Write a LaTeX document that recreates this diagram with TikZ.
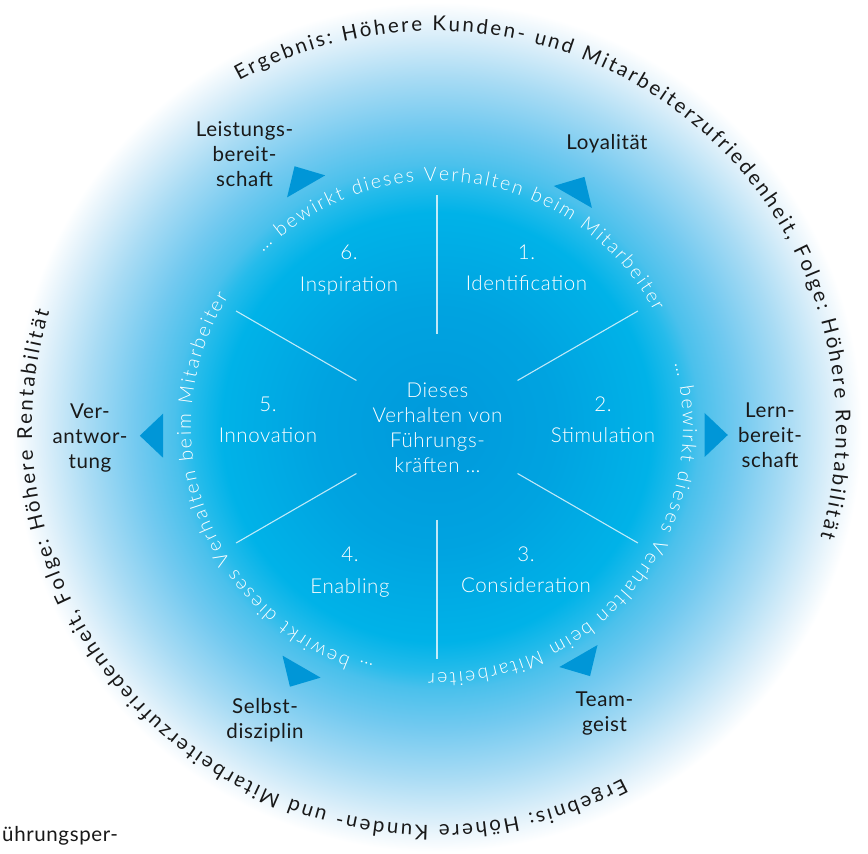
\documentclass[tikz,border=0pt]{standalone}
\usepackage{fontspec}
\setmainfont{Lato}[LetterSpace=3]
\newfontfamily\thinfont{Lato Light}[LetterSpace=3]
\newfontfamily\thinringfont{Lato Light}
\newfontfamily\ringfont{Lato}
\usetikzlibrary{decorations.text}

% glow behind the wheel: deep blue core, cyan rim, fading to white
% (the path's bounding box maps onto the inner 25bp of the shading)
\pgfdeclareradialshading{halo}{\pgfpoint{0bp}{0bp}}{%
  rgb(0bp)=(0,0.60,0.86);
  rgb(7bp)=(0,0.64,0.88);
  rgb(12.5bp)=(0,0.70,0.91);
  rgb(14.25bp)=(0.15,0.735,0.92);
  rgb(15.25bp)=(0.29,0.755,0.925);
  rgb(17.5bp)=(0.45,0.79,0.94);
  rgb(20.35bp)=(0.66,0.86,0.957);
  rgb(23bp)=(0.87,0.94,0.98);
  rgb(24.7bp)=(1,1,1);
  rgb(50bp)=(1,1,1)}

\definecolor{pointerblue}{RGB}{0,150,215}
\definecolor{ink}{RGB}{25,25,25}

\tikzset{
  divider/.style={draw=white, draw opacity=0.75, line width=1.1pt},
  darklabel/.style={text=ink, align=center, inner sep=0pt,
    font=\fontsize{20.5}{25}\selectfont},
  lightlabel/.style={text=white, align=center, inner sep=0pt,
    font=\thinfont\fontsize{20.5}{25}\selectfont},
  pointer/.style={fill=pointerblue},
  ringtext/.style={decorate, decoration={text along path, text align=fit to path,
    text={|\thinringfont\fontsize{19.5}{23}\selectfont\color{white}|… bewirkt dieses Verhalten beim Mitarbeiter}}},
  outertext/.style={decorate, decoration={text along path, text align=fit to path,
    text={|\ringfont\fontsize{20.5}{25}\selectfont\color{ink}|Ergebnis: Höhere Kunden- und Mitarbeiterzufriedenheit, Folge: Höhere Rentabilität}}},
}

\begin{document}
\begin{tikzpicture}[x=1pt,y=1pt]
\useasboundingbox (0,0) rectangle (868,854);
\fill[white] (0,0) rectangle (868,854);

% background glow
\shade[shading=halo] (437,427) circle[radius=430];

% spokes between the six segments
\begin{scope}[shift={(437,427)}]
  \foreach \a in {90,30,-30,-90,-150,150}
    \draw[divider] (\a:93) -- (\a:232);
\end{scope}

% pointers leading outwards
\fill[pointer, shift={(712.3,419)},   rotate=0]   (15.5,0) -- (-7.7,22) -- (-7.7,-22) -- cycle;
\fill[pointer, shift={(576.7,663.7)}, rotate=60]  (15.5,0) -- (-7.7,22) -- (-7.7,-22) -- cycle;
\fill[pointer, shift={(302.3,674.3)}, rotate=120] (15.5,0) -- (-7.7,22) -- (-7.7,-22) -- cycle;
\fill[pointer, shift={(155.3,418.3)}, rotate=180] (15.5,0) -- (-7.7,22) -- (-7.7,-22) -- cycle;
\fill[pointer, shift={(297.7,180.7)}, rotate=240] (15.5,0) -- (-7.7,22) -- (-7.7,-22) -- cycle;
\fill[pointer, shift={(582.3,191.3)}, rotate=300] (15.5,0) -- (-7.7,22) -- (-7.7,-22) -- cycle;

% inner ring text, three times
\begin{scope}[shift={(437,427)}]
  \path[ringtext] (135:246) arc[start angle=135, end angle=28, radius=246];
  \path[ringtext] (15:246) arc[start angle=15, end angle=-92, radius=246];
  \path[ringtext] (-105:246) arc[start angle=-105, end angle=-212, radius=246];
\end{scope}

% outer ring text, twice
\begin{scope}[shift={(434,426)}]
  \path[outertext] (119:402 and 397) arc[start angle=119, end angle=-16, x radius=402, y radius=397];
  \path[outertext] (-62:402 and 397) arc[start angle=-62, end angle=-197, x radius=402, y radius=397];
\end{scope}

% segments
\node[lightlabel] (hub) at (437.5,426.5) {Dieses\\Verhalten von\\Führungs-\\kräften …};
\node[lightlabel] (n1) at (526.5,586) {1.\\[6.5pt]Identification};
\node[lightlabel] (n2) at (603,434.3) {2.\\[6.5pt]Stimulation};
\node[lightlabel] (n3) at (526,284) {3.\\[6.5pt]Consideration};
\node[lightlabel] (n4) at (350,282) {4.\\[6.5pt]Enabling};
\node[lightlabel] (n5) at (268,434.3) {5.\\[6.5pt]Innovation};
\node[lightlabel] (n6) at (349,584) {6.\\[6.5pt]Inspiration};

% effects on the employee
\node[darklabel, anchor=base] (loy) at (607,704) {Loyalität};
\node[darklabel] (lbs) at (244.5,700.3) {Leistungs-\\bereit-\\schaft};
\node[darklabel] (ver) at (90,416.3) {Ver-\\antwor-\\tung};
\node[darklabel] (lern) at (770,419.2) {Lern-\\bereit-\\schaft};
\node[darklabel] (sel) at (265,134) {Selbst-\\disziplin};
\node[darklabel] (team) at (604.5,140.3) {Team-\\geist};

% fragment at the lower edge
\node[darklabel, anchor=base west] (cut) at (2,12.3) {ührungsper-};
\end{tikzpicture}
\end{document}
